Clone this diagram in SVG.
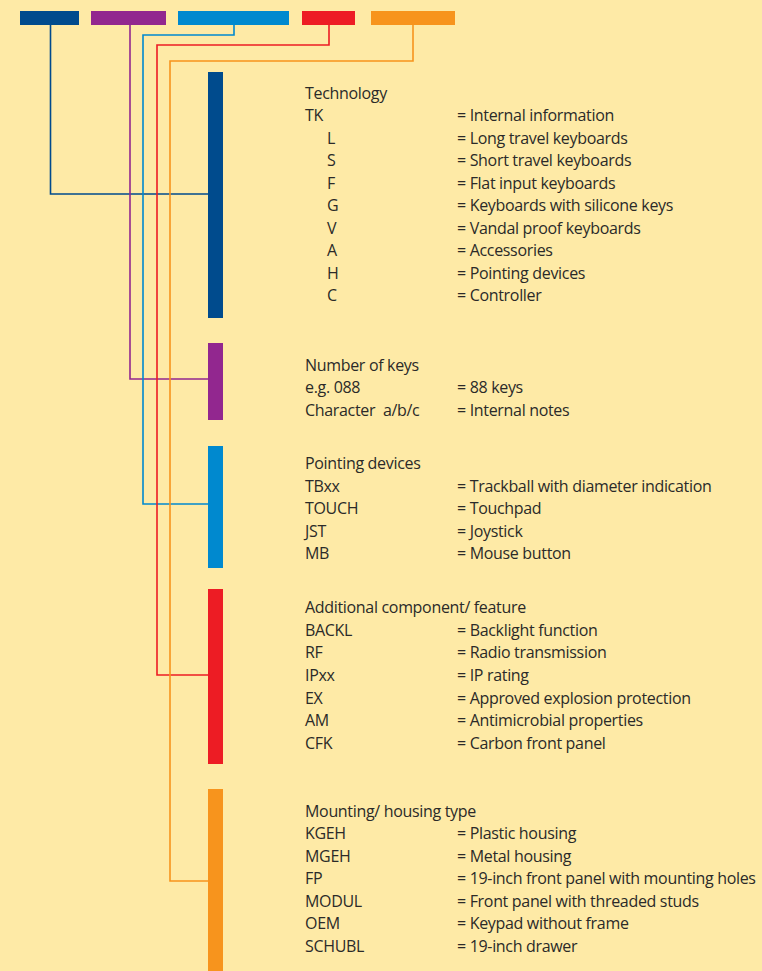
<svg xmlns="http://www.w3.org/2000/svg" width="762" height="971" viewBox="0 0 762 971">
<style>
.t{font-family:"Open Sans","Liberation Sans",sans-serif;font-size:16px;font-weight:500;letter-spacing:-0.32px;fill:#2b2a29}
.c{fill:none;stroke-width:1.6}
</style>
<rect width="762" height="971" fill="#FEEAA6"/>
<g id="connectors">
<polyline class="c" stroke="#004B8D" points="50.5,25 50.5,194 208,194"/>
<polyline class="c" stroke="#92278F" points="130,25 130,379 208,379"/>
<polyline class="c" stroke="#0089CF" points="234,25 234,35 143,35 143,504 208,504"/>
<polyline class="c" stroke="#ED1C24" points="329,25 329,45 157,45 157,675 208,675"/>
<polyline class="c" stroke="#F7941D" points="413,25 413,61 170,61 170,881 208,881"/>
</g>
<g id="code-bars">
<rect x="20" y="11" width="59" height="14" fill="#004B8D"/>
<rect x="91" y="11" width="75" height="14" fill="#92278F"/>
<rect x="178" y="11" width="111" height="14" fill="#0089CF"/>
<rect x="302" y="11" width="53" height="14" fill="#ED1C24"/>
<rect x="371" y="11" width="84" height="14" fill="#F7941D"/>
</g>
<g id="technology">
<rect x="208" y="72" width="15" height="246" fill="#004B8D"/>
<text class="t" x="305" y="99.3">Technology</text>
<text class="t" x="305" y="121">TK</text><text class="t" x="457" y="121">= Internal information</text>
<text class="t" x="327" y="143.5">L</text><text class="t" x="457" y="143.5">= Long travel keyboards</text>
<text class="t" x="327" y="166">S</text><text class="t" x="457" y="166">= Short travel keyboards</text>
<text class="t" x="327" y="188.5">F</text><text class="t" x="457" y="188.5">= Flat input keyboards</text>
<text class="t" x="327" y="211">G</text><text class="t" x="457" y="211">= Keyboards with silicone keys</text>
<text class="t" x="327" y="233.5">V</text><text class="t" x="457" y="233.5">= Vandal proof keyboards</text>
<text class="t" x="327" y="256">A</text><text class="t" x="457" y="256">= Accessories</text>
<text class="t" x="327" y="278.5">H</text><text class="t" x="457" y="278.5">= Pointing devices</text>
<text class="t" x="327" y="301">C</text><text class="t" x="457" y="301">= Controller</text>
</g>
<g id="keys">
<rect x="208" y="343" width="15" height="77" fill="#92278F"/>
<text class="t" x="305" y="370.7">Number of keys</text>
<text class="t" x="305" y="393">e.g. 088</text><text class="t" x="457" y="393">= 88 keys</text>
<text class="t" x="305" y="415.5" style="white-space:pre">Character  a/b/c</text><text class="t" x="457" y="415.5">= Internal notes</text>
</g>
<g id="pointing">
<rect x="208" y="446" width="15" height="122" fill="#0089CF"/>
<text class="t" x="305" y="468.5">Pointing devices</text>
<text class="t" x="305" y="491.5">TBxx</text><text class="t" x="457" y="491.5">= Trackball with diameter indication</text>
<text class="t" x="305" y="514">TOUCH</text><text class="t" x="457" y="514">= Touchpad</text>
<text class="t" x="305" y="536.5">JST</text><text class="t" x="457" y="536.5">= Joystick</text>
<text class="t" x="305" y="559">MB</text><text class="t" x="457" y="559">= Mouse button</text>
</g>
<g id="additional">
<rect x="208" y="589" width="15" height="175" fill="#ED1C24"/>
<text class="t" x="305" y="613.3">Additional component/ feature</text>
<text class="t" x="305" y="635.5">BACKL</text><text class="t" x="457" y="635.5">= Backlight function</text>
<text class="t" x="305" y="658.3">RF</text><text class="t" x="457" y="658.3">= Radio transmission</text>
<text class="t" x="305" y="681">IPxx</text><text class="t" x="457" y="681">= IP rating</text>
<text class="t" x="305" y="703.5">EX</text><text class="t" x="457" y="703.5">= Approved explosion protection</text>
<text class="t" x="305" y="726">AM</text><text class="t" x="457" y="726">= Antimicrobial properties</text>
<text class="t" x="305" y="748.5">CFK</text><text class="t" x="457" y="748.5">= Carbon front panel</text>
</g>
<g id="mounting">
<rect x="208" y="789" width="15" height="182" fill="#F7941D"/>
<text class="t" x="305" y="816.7">Mounting/ housing type</text>
<text class="t" x="305" y="839.3">KGEH</text><text class="t" x="457" y="839.3">= Plastic housing</text>
<text class="t" x="305" y="861.7">MGEH</text><text class="t" x="457" y="861.7">= Metal housing</text>
<text class="t" x="305" y="884.3">FP</text><text class="t" x="457" y="884.3">= 19-inch front panel with mounting holes</text>
<text class="t" x="305" y="906.7">MODUL</text><text class="t" x="457" y="906.7">= Front panel with threaded studs</text>
<text class="t" x="305" y="929.3">OEM</text><text class="t" x="457" y="929.3">= Keypad without frame</text>
<text class="t" x="305" y="951.7">SCHUBL</text><text class="t" x="457" y="951.7">= 19-inch drawer</text>
</g>
</svg>
